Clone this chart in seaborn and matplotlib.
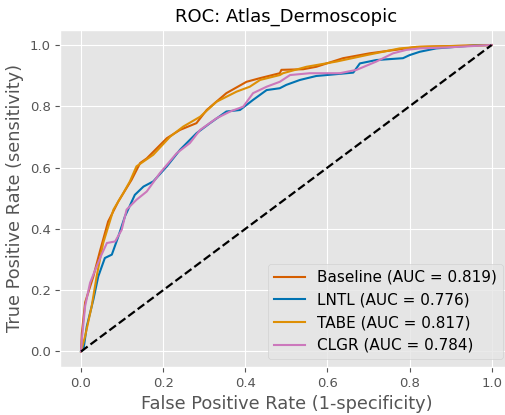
import numpy as np
import pandas as pd
import matplotlib
matplotlib.use("Agg")
import matplotlib.pyplot as plt
import seaborn as sns

# ---- data ----
baseline_fpr = [0.0, 0.002, 0.010, 0.030, 0.046, 0.066, 0.091, 0.123, 0.144, 0.160, 0.209, 0.241, 0.281, 0.306,
                0.354, 0.403, 0.436, 0.484, 0.488, 0.541, 0.573, 0.638, 0.703, 0.776, 0.817, 1.0]
baseline_tpr = [0.0, 0.06, 0.16, 0.245, 0.327, 0.424, 0.490, 0.560, 0.615, 0.630, 0.696, 0.723, 0.745, 0.788,
                0.843, 0.880, 0.892, 0.908, 0.919, 0.921, 0.929, 0.957, 0.973, 0.986, 0.994, 1.0]

lntl_fpr = [0.0, 0.006, 0.014, 0.030, 0.042, 0.058, 0.075, 0.091, 0.107, 0.131, 0.152, 0.176, 0.209, 0.241,
            0.281, 0.314, 0.354, 0.387, 0.419, 0.452, 0.484, 0.500, 0.533, 0.573, 0.598, 0.663, 0.679, 0.719,
            0.784, 0.800, 0.825, 0.865, 0.922, 0.971, 1.0]
lntl_tpr = [0.0, 0.007, 0.082, 0.169, 0.245, 0.305, 0.316, 0.376, 0.441, 0.511, 0.538, 0.555, 0.604, 0.658,
            0.712, 0.745, 0.783, 0.788, 0.821, 0.853, 0.859, 0.870, 0.886, 0.899, 0.902, 0.910, 0.940, 0.951,
            0.957, 0.967, 0.978, 0.989, 0.995, 1.0, 1.0]

tabe_fpr = [0.0, 0.010, 0.026, 0.038, 0.054, 0.079, 0.103, 0.119, 0.135, 0.176, 0.217, 0.249, 0.290, 0.330,
            0.379, 0.411, 0.436, 0.484, 0.492, 0.549, 0.622, 0.695, 0.776, 0.825, 1.0]
tabe_tpr = [0.0, 0.050, 0.148, 0.245, 0.354, 0.463, 0.517, 0.555, 0.604, 0.642, 0.701, 0.734, 0.766, 0.815,
            0.848, 0.864, 0.886, 0.902, 0.908, 0.929, 0.946, 0.967, 0.989, 0.994, 1.0]

clgr_fpr = [0.0, 0.002, 0.010, 0.022, 0.038, 0.050, 0.063, 0.083, 0.099, 0.111, 0.135, 0.160, 0.192, 0.233,
            0.265, 0.290, 0.330, 0.363, 0.395, 0.419, 0.452, 0.484, 0.509, 0.557, 0.630, 0.671, 0.719, 0.760,
            0.792, 0.825, 0.890, 1.0]
clgr_tpr = [0.0, 0.039, 0.148, 0.224, 0.278, 0.316, 0.354, 0.359, 0.397, 0.463, 0.495, 0.522, 0.582, 0.647,
            0.680, 0.723, 0.761, 0.783, 0.799, 0.843, 0.864, 0.880, 0.902, 0.908, 0.908, 0.919, 0.946, 0.973,
            0.984, 0.989, 0.992, 1.0]

labels = ["Baseline (AUC = 0.819)", "LNTL (AUC = 0.776)", "TABE (AUC = 0.817)", "CLGR (AUC = 0.784)"]
colors = ["#D55E00", "#0173B2", "#DE8F05", "#CC78BC"]
title = "ROC: Atlas_Dermoscopic"
xlabel = "False Positive Rate (1-specificity)"
ylabel = "True Positive Rate (sensitivity)"
ticks = [0.0, 0.2, 0.4, 0.6, 0.8, 1.0]

plt.style.use("ggplot")
plt.rcParams["font.family"] = ["DejaVu Sans"]

fig = plt.figure(figsize=(5.06, 4.15), dpi=100)
W, H = 506, 415
ax = fig.add_axes([60.5 / W, (H - 366.8) / H, (512.2 - 60.5) / W, (366.8 - 29.7) / H])

series = [(baseline_fpr, baseline_tpr), (lntl_fpr, lntl_tpr), (tabe_fpr, tabe_tpr), (clgr_fpr, clgr_tpr)]
for (fx, ty), lab, col in zip(series, labels, colors):
    df = pd.DataFrame({"fpr": fx, "tpr": ty})
    sns.lineplot(data=df, x="fpr", y="tpr", ax=ax, color=col, linewidth=1.5,
                 sort=False, estimator=None, label=lab)

ax.plot([0, 1], [0, 1], linestyle="--", color="black", linewidth=1.6)

ax.set_xlim(-0.05, 1.05)
ax.set_ylim(-0.05, 1.05)
ax.set_xticks(ticks)
ax.set_yticks(ticks)
ax.tick_params(labelsize=9.5, colors="#555555", labelcolor="#555555")
ax.set_title(title, fontsize=13, color="black")
ax.set_xlabel(xlabel, fontsize=12.8, color="#555555")
ax.set_ylabel(ylabel, fontsize=12.8, color="#555555")

leg = ax.legend(loc="lower right", bbox_to_anchor=(503 / W, (H - 359) / H),
                bbox_transform=fig.transFigure, fontsize=11, borderaxespad=0.0,
                frameon=True)
leg.get_frame().set_facecolor("#E5E5E5")
leg.get_frame().set_edgecolor("#CCCCCC")

fig.savefig("out.png", dpi=100)
